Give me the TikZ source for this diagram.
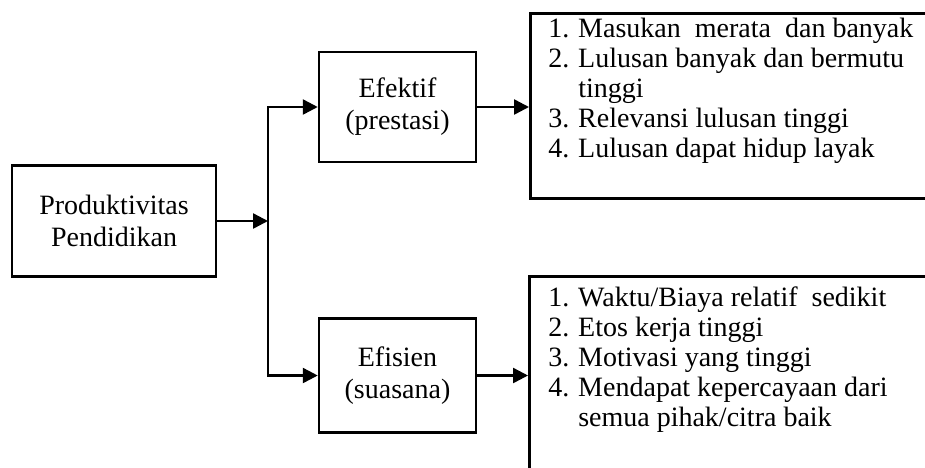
\documentclass[tikz,border=0pt]{standalone}
\usepackage{fontspec}
\setmainfont{Liberation Serif}
\usetikzlibrary{arrows.meta, positioning}
\tikzset{
  blok/.style={draw, align=center, minimum width=157pt, minimum height=110pt, inner sep=0pt},
  daftar/.style={draw, anchor=north west, minimum width=420pt, inner sep=0pt},
  isi/.style={anchor=base west, inner sep=0pt, font=\fontsize{28}{30}\selectfont},
}

\begin{document}
\begin{tikzpicture}[x=1pt, y=-1pt, >={Triangle[length=15pt,width=15pt]}, line width=2.5pt, font=\fontsize{28}{32}\selectfont]
\useasboundingbox (0,0) rectangle (925,467);
\node[blok, minimum width=204pt, minimum height=111pt] (prod) at (114,221) {Produktivitas\\Pendidikan};
\node[blok] (eft) at (397.5,107) {Efektif\\(prestasi)};
\node[blok, minimum height=114pt, below=154pt of eft] (efs) {Efisien\\(suasana)};
\coordinate (bus) at (268,221);
% kotak daftar kanan
\node[daftar, minimum height=185pt] (boxA) at (529,12) {};
\node[daftar, minimum height=230pt] (boxB) at (528,275) {};
\node[isi] (listA) at ([xshift=18pt,yshift=-25pt]boxA.north west) {\begin{tabular}[t]{@{}p{30pt}@{}l@{}}
1. & Masukan~ merata~ dan banyak\\
2. & Lulusan banyak dan bermutu\\
   & tinggi\\
3. & Relevansi lulusan tinggi\\
4. & Lulusan dapat hidup layak
\end{tabular}};
\node[isi] (listB) at ([xshift=19pt,yshift=-31pt]boxB.north west) {\begin{tabular}[t]{@{}p{30pt}@{}l@{}}
1. & Waktu/Biaya relatif~ sedikit\\
2. & Etos kerja tinggi\\
3. & Motivasi yang tinggi\\
4. & Mendapat kepercayaan dari\\
   & semua pihak/citra baik
\end{tabular}};
% panah
\draw[->] (prod.east) -- (prod.east -| bus);
\draw[<->] (eft.west) -| (bus) |- (efs.west);
\draw[->] (eft.east) -- (eft.east -| boxA.west);
\draw[->] (efs.east) -- (efs.east -| boxB.west);
\end{tikzpicture}
\end{document}
